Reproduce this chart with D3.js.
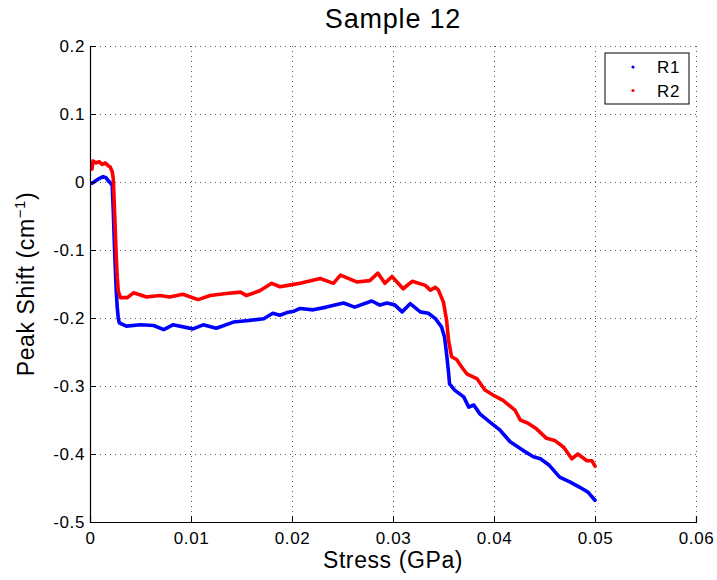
<!DOCTYPE html>
<html>
<head>
<meta charset="utf-8">
<script src="https://cdn.jsdelivr.net/npm/d3@7/dist/d3.min.js"></script>
<style>
  body { margin: 0; background: #fff; }
  svg { display: block; font-family: "Liberation Sans", Arial, sans-serif; }
</style>
</head>
<body>
<svg id="chart" width="717" height="580"></svg>
<script>
// values (stress in GPa, shift in cm^-1)
const r1Stress = [0.0002, 0.0005, 0.0009, 0.0013, 0.0016, 0.0018, 0.0020, 0.0022, 0.0023, 0.0024,
  0.0025, 0.0026, 0.0027, 0.0028, 0.0029, 0.0036, 0.0050, 0.0063, 0.0073, 0.0082,
  0.0102, 0.0112, 0.0125, 0.0142, 0.0155, 0.0172, 0.0181, 0.0188, 0.0195, 0.0202,
  0.0208, 0.0221, 0.0234, 0.0251, 0.0262, 0.0279, 0.0287, 0.0294, 0.0302, 0.0309,
  0.0317, 0.0327, 0.0335, 0.0342, 0.0348, 0.0351, 0.0353, 0.0355, 0.0356, 0.0361,
  0.0370, 0.0375, 0.0380, 0.0386, 0.0396, 0.0406, 0.0416, 0.0429, 0.0439, 0.0446,
  0.0455, 0.0465, 0.0475, 0.0485, 0.0493, 0.0500];
const r1Shift = [-0.002, 0.001, 0.005, 0.008, 0.006, 0.002, -0.001, -0.005, -0.040, -0.085,
  -0.125, -0.160, -0.185, -0.200, -0.207, -0.212, -0.210, -0.211, -0.217, -0.210,
  -0.216, -0.210, -0.215, -0.206, -0.204, -0.201, -0.193, -0.196, -0.192, -0.190,
  -0.186, -0.188, -0.184, -0.178, -0.184, -0.175, -0.181, -0.178, -0.181, -0.191,
  -0.179, -0.191, -0.193, -0.201, -0.213, -0.228, -0.252, -0.280, -0.297, -0.306,
  -0.316, -0.331, -0.328, -0.341, -0.353, -0.365, -0.382, -0.395, -0.404, -0.407,
  -0.417, -0.434, -0.441, -0.449, -0.456, -0.468];

const r2Stress = [0.0002, 0.0003, 0.0006, 0.0009, 0.0012, 0.0015, 0.0018, 0.0020, 0.0022, 0.0023,
  0.0024, 0.0025, 0.0026, 0.0027, 0.0028, 0.0030, 0.0033, 0.0037, 0.0043, 0.0056,
  0.0069, 0.0079, 0.0092, 0.0107, 0.0119, 0.0135, 0.0149, 0.0155, 0.0168, 0.0180,
  0.0188, 0.0196, 0.0208, 0.0228, 0.0241, 0.0248, 0.0264, 0.0277, 0.0285, 0.0292,
  0.0299, 0.0310, 0.0319, 0.0332, 0.0337, 0.0342, 0.0345, 0.0350, 0.0353, 0.0355,
  0.0358, 0.0363, 0.0368, 0.0373, 0.0383, 0.0391, 0.0401, 0.0409, 0.0421, 0.0426,
  0.0434, 0.0442, 0.0452, 0.0460, 0.0469, 0.0477, 0.0483, 0.0492, 0.0497, 0.0500];
const r2Shift = [0.019, 0.031, 0.028, 0.030, 0.026, 0.028, 0.024, 0.022, 0.015, 0.005,
  -0.030, -0.070, -0.110, -0.140, -0.160, -0.170, -0.170, -0.170, -0.163, -0.169,
  -0.167, -0.169, -0.165, -0.173, -0.167, -0.164, -0.162, -0.167, -0.160, -0.149,
  -0.154, -0.152, -0.149, -0.142, -0.149, -0.137, -0.147, -0.145, -0.134, -0.149,
  -0.139, -0.157, -0.146, -0.152, -0.159, -0.155, -0.159, -0.177, -0.203, -0.233,
  -0.257, -0.261, -0.272, -0.282, -0.289, -0.306, -0.315, -0.321, -0.336, -0.350,
  -0.355, -0.363, -0.377, -0.380, -0.390, -0.407, -0.400, -0.410, -0.410, -0.418];

const xTicks = [0, 0.01, 0.02, 0.03, 0.04, 0.05, 0.06];
const yTicks = [-0.5, -0.4, -0.3, -0.2, -0.1, 0, 0.1, 0.2];

const series = [
  { name: "R1", color: "#0000ff", xs: r1Stress, ys: r1Shift },
  { name: "R2", color: "#ff0000", xs: r2Stress, ys: r2Shift },
];

const margin = { left: 90, right: 21, top: 46, bottom: 58 };
const width = 717, height = 580;
const svg = d3.select("#chart");

const x = d3.scaleLinear().domain([0, 0.06]).range([margin.left, width - margin.right]);
const y = d3.scaleLinear().domain([-0.5, 0.2]).range([height - margin.bottom, margin.top]);

// dotted grid
const grid = svg.append("g").attr("stroke", "#555").attr("stroke-width", 1)
  .attr("stroke-dasharray", "1,4");
grid.selectAll(".vgrid").data(xTicks.slice(1)).join("line")
  .attr("x1", (d) => Math.round(x(d)) + 0.5).attr("x2", (d) => Math.round(x(d)) + 0.5)
  .attr("y1", y(-0.5)).attr("y2", y(0.2));
grid.selectAll(".hgrid").data(yTicks.slice(1)).join("line")
  .attr("x1", x(0)).attr("x2", x(0.06))
  .attr("y1", (d) => Math.round(y(d)) + 0.5).attr("y2", (d) => Math.round(y(d)) + 0.5);

// series
const line = d3.line().x((d) => x(d[0])).y((d) => y(d[1]));
series.forEach((s) => {
  const pts = s.xs.map((v, i) => [v, s.ys[i]]);
  svg.append("path")
    .datum(pts)
    .attr("fill", "none")
    .attr("stroke", s.color)
    .attr("stroke-width", 3.6)
    .attr("stroke-linejoin", "round")
    .attr("stroke-linecap", "round")
    .attr("d", line);
});

// axes (left and bottom only, ticks inward)
const fmt = (d) => String(+d.toFixed(2));
const xAxis = svg.append("g")
  .attr("transform", `translate(0,${y(-0.5)})`)
  .call(d3.axisBottom(x).tickValues(xTicks).tickSize(-6).tickPadding(10).tickFormat(fmt));
const yAxis = svg.append("g")
  .attr("transform", `translate(${x(0)},0)`)
  .call(d3.axisLeft(y).tickValues(yTicks).tickSize(-6).tickPadding(5).tickFormat(fmt));

[xAxis, yAxis].forEach((g) => {
  g.select(".domain").attr("stroke", "#000").attr("stroke-width", 1.2);
  g.selectAll(".tick line").attr("stroke", "#000");
  g.selectAll(".tick text").attr("fill", "#000")
    .style("font-size", "17px").style("letter-spacing", "0.6px");
});
xAxis.selectAll(".tick text").attr("dy", "0.72em");

// title and labels
svg.append("text")
  .attr("x", (x(0) + x(0.06)) / 2).attr("y", 28)
  .attr("text-anchor", "middle")
  .style("font-size", "27px").style("letter-spacing", "0.8px")
  .text("Sample 12");

svg.append("text")
  .attr("x", (x(0) + x(0.06)) / 2).attr("y", 568)
  .attr("text-anchor", "middle")
  .style("font-size", "23px").style("letter-spacing", "0.6px")
  .text("Stress (GPa)");

const yLabel = svg.append("text")
  .attr("transform", `translate(34,${(y(-0.5) + y(0.2)) / 2}) rotate(-90)`)
  .attr("text-anchor", "middle")
  .style("font-size", "23px").style("letter-spacing", "0.6px");
yLabel.append("tspan").text("Peak Shift (cm");
yLabel.append("tspan").attr("dy", -9).style("font-size", "15px").text("\u22121");
yLabel.append("tspan").attr("dy", 9).text(")");

// legend
const legend = svg.append("g").attr("transform", "translate(605,53)");
legend.append("rect")
  .attr("width", 84).attr("height", 51)
  .attr("fill", "#fff").attr("stroke", "#000").attr("stroke-width", 1);
series.forEach((s, i) => {
  const row = legend.append("g").attr("transform", `translate(0,${14 + i * 23.5})`);
  row.append("circle").attr("cx", 28).attr("cy", 0).attr("r", 1.6).attr("fill", s.color);
  row.append("text")
    .attr("x", 52).attr("y", 0).attr("dy", "0.36em")
    .style("font-size", "17px").style("letter-spacing", "0.6px")
    .text(s.name);
});
</script>
</body>
</html>
